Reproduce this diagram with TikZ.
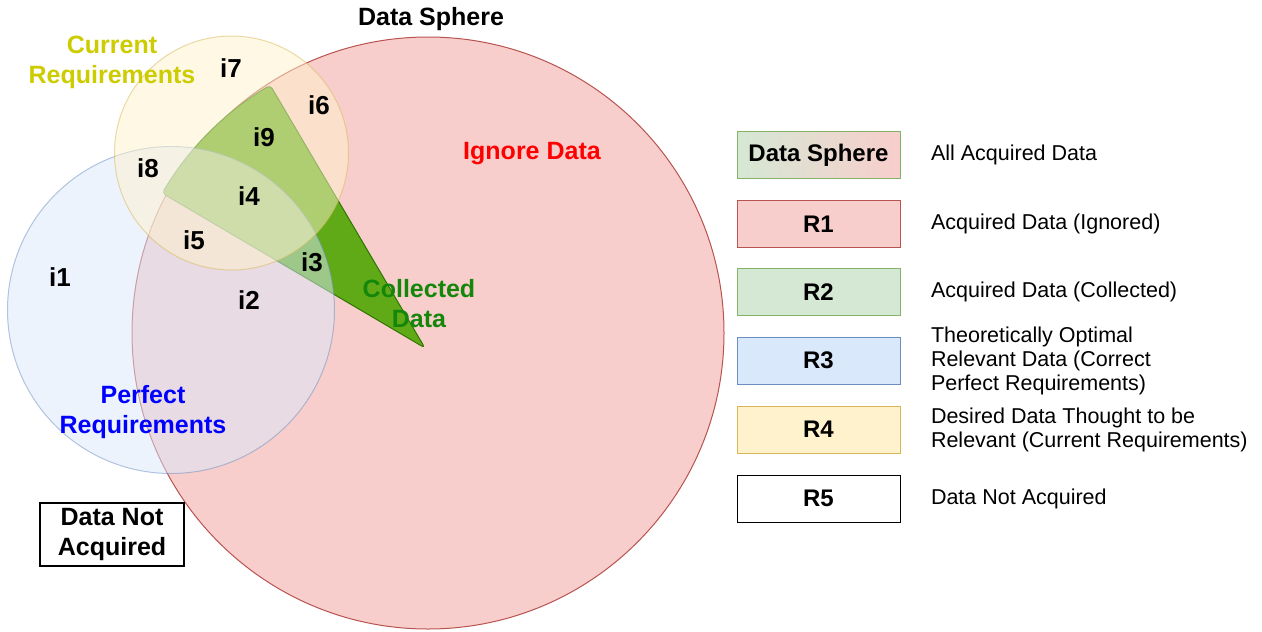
\documentclass[tikz,border=0pt]{standalone}
\usepackage{fontspec}
\setmainfont{Liberation Sans}
\usetikzlibrary{positioning}
\definecolor{redfill}{HTML}{F8CECC}
\definecolor{redline}{HTML}{B85450}
\definecolor{greenfill}{HTML}{D5E8D4}
\definecolor{greenline}{HTML}{82B366}
\definecolor{bluefill}{HTML}{DAE8FC}
\definecolor{blueline}{HTML}{6C8EBF}
\definecolor{yellowfill}{HTML}{FFF2CC}
\definecolor{yellowline}{HTML}{D6B656}
\definecolor{wedgefill}{HTML}{60A917}
\definecolor{wedgeline}{HTML}{2D7600}
\definecolor{collectedtext}{RGB}{20,135,10}
\definecolor{currenttext}{HTML}{CCCC00}
\begin{document}
\begin{tikzpicture}[x=1pt, y=-1pt, line width=1pt,
  every node/.style = {inner sep=0pt, align=center,
    font=\fontsize{25}{30}\selectfont\bfseries},
  legendbox/.style = {draw, minimum width=163pt, minimum height=47pt,
    font=\fontsize{24}{28}\selectfont\bfseries},
  legendtext/.style = {align=left, anchor=west,
    font=\fontsize{21.5}{24}\selectfont}]
  \useasboundingbox (0,0) rectangle (1262,632);

  \filldraw[fill=redfill, draw=redline] (428,333) circle[radius=296];
  \filldraw[fill=wedgefill, draw=wedgeline, rounded corners=4pt]
    (425,348) -- ++(-120.5:305) arc[start angle=-120.5, end angle=-149.5, radius=305] -- cycle;
  \filldraw[fill=bluefill, draw=blueline, opacity=0.5] (171,310) circle[radius=163.5];
  \filldraw[fill=yellowfill, draw=yellowline, opacity=0.5] (231.5,153) circle[radius=117];

  \node (sphere) at (431,19) {Data Sphere};
  \node[text=currenttext] (current) at (112,62) {Current\\Requirements};
  \node[text=red] (ignore) at (532,154) {Ignore Data};
  \node[text=collectedtext] (collected) at (419,304) {Collected\\Data};
  \node[text=blue] (perfect) at (143,412) {Perfect\\Requirements};
  \node[draw, line width=1.5pt, minimum width=144pt, minimum height=63pt] (notacquired)
    at (112,534.5) {Data Not\\Acquired};

  \foreach \n/\x/\y in {1/60/277, 2/249/300, 3/312/262, 4/249/196, 5/194/240,
                        6/319/105, 7/231/68, 8/148/168, 9/264/137}
    \node[font=\fontsize{26}{30}\selectfont\bfseries] (i\n) at (\x,\y) {i\n};

  \node[legendbox, left color=greenfill, right color=redfill, draw=greenline] (dsbox)
    at (818.5,155) {Data Sphere};
  \node[legendbox, fill=redfill, draw=redline] (r1) at (818.5,224) {R1};
  \node[legendbox, fill=greenfill, draw=greenline] (r2) at (818.5,292) {R2};
  \node[legendbox, fill=bluefill, draw=blueline] (r3) at (818.5,360.5) {R3};
  \node[legendbox, fill=yellowfill, draw=yellowline] (r4) at (818.5,429.5) {R4};
  \node[legendbox, fill=white, draw=black] (r5) at (818.5,498.5) {R5};

  \node[legendtext, right=30pt of dsbox] (dsdesc) {All Acquired Data};
  \node[legendtext, right=30pt of r1] (r1desc) {Acquired Data (Ignored)};
  \node[legendtext, right=30pt of r2] (r2desc) {Acquired Data (Collected)};
  \node[legendtext, right=30pt of r3] (r3desc) {Theoretically Optimal\\Relevant Data (Correct\\Perfect Requirements)};
  \node[legendtext, right=30pt of r4] (r4desc) {Desired Data Thought to be\\Relevant (Current Requirements)};
  \node[legendtext, right=30pt of r5] (r5desc) {Data Not Acquired};
\end{tikzpicture}
\end{document}
